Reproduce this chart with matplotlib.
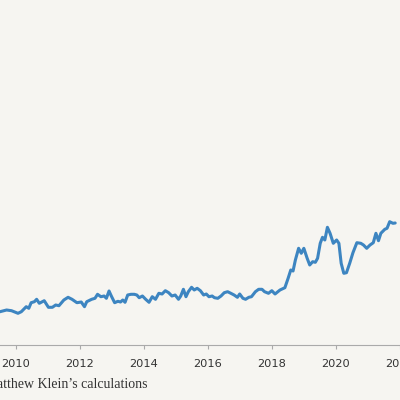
import matplotlib
matplotlib.use("Agg")
import matplotlib.pyplot as plt

# Decimal years and values (arbitrary units)
years = [2009.40, 2009.509, 2009.715, 2009.868, 2010.071, 2010.175, 2010.328, 2010.408, 2010.482,
         2010.583, 2010.653, 2010.736, 2010.890, 2011.021, 2011.144, 2011.248, 2011.350,
         2011.503, 2011.635, 2011.758, 2011.911, 2012.046, 2012.147, 2012.218, 2012.371,
         2012.475, 2012.555, 2012.660, 2012.761, 2012.831, 2012.914, 2012.985, 2013.089,
         2013.190, 2013.273, 2013.344, 2013.414, 2013.497, 2013.598, 2013.702, 2013.782,
         2013.856, 2013.957, 2014.058, 2014.163, 2014.264, 2014.365, 2014.469, 2014.571,
         2014.672, 2014.776, 2014.877, 2014.979, 2015.083, 2015.153, 2015.236, 2015.316,
         2015.390, 2015.491, 2015.574, 2015.666, 2015.767, 2015.868, 2015.951, 2016.034,
         2016.135, 2016.206, 2016.310, 2016.411, 2016.512, 2016.617, 2016.718, 2016.819,
         2016.923, 2016.994, 2017.095, 2017.178, 2017.279, 2017.362, 2017.485, 2017.586,
         2017.690, 2017.770, 2017.893, 2017.997, 2018.098, 2018.252, 2018.405, 2018.506,
         2018.589, 2018.660, 2018.733, 2018.834, 2018.917, 2018.997, 2019.101, 2019.181,
         2019.273, 2019.356, 2019.426, 2019.509, 2019.580, 2019.653, 2019.733, 2019.816,
         2019.917, 2020.021, 2020.092, 2020.163, 2020.245, 2020.328, 2020.429, 2020.531,
         2020.653, 2020.776, 2020.859, 2020.960, 2021.064, 2021.166, 2021.248, 2021.328,
         2021.402, 2021.525, 2021.595, 2021.678, 2021.779, 2021.850]
values = [3.30, 3.33, 3.50, 3.43, 3.17, 3.33, 3.83, 3.67, 4.23,
          4.33, 4.57, 4.17, 4.43, 3.77, 3.77, 4.00, 3.93,
          4.50, 4.77, 4.57, 4.23, 4.30, 3.83, 4.33, 4.57,
          4.67, 5.07, 4.83, 4.90, 4.67, 5.40, 4.90, 4.23,
          4.37, 4.30, 4.50, 4.27, 5.00, 5.07, 5.07, 5.00,
          4.73, 4.90, 4.57, 4.27, 4.83, 4.57, 5.17, 5.10,
          5.43, 5.23, 4.90, 5.00, 4.57, 4.90, 5.57, 4.83,
          5.33, 5.77, 5.50, 5.67, 5.43, 5.00, 5.10, 4.83,
          4.90, 4.73, 4.67, 4.90, 5.23, 5.33, 5.17, 5.00,
          4.77, 5.10, 4.67, 4.57, 4.77, 4.83, 5.33, 5.57,
          5.57, 5.33, 5.17, 5.43, 5.10, 5.50, 5.73, 6.67,
          7.50, 7.40, 8.50, 9.67, 9.17, 9.67, 8.67, 8.00,
          8.33, 8.27, 8.67, 10.17, 10.77, 10.50, 11.77, 11.17,
          10.17, 10.50, 10.17, 8.17, 7.17, 7.23, 8.17, 9.23,
          10.23, 10.17, 10.00, 9.67, 10.00, 10.23, 11.17, 10.43,
          11.17, 11.57, 11.67, 12.33, 12.17, 12.20]

tick_years = [2010, 2012, 2014, 2016, 2018, 2020, 2022]
tick_labels = ["2010", "2012", "2014", "2016", "2018", "2020", "2022"]
source = "Sources: Federal Reserve; Matthew Klein\u2019s calculations"

bg = "#f6f5f1"
fig = plt.figure(figsize=(4, 4), dpi=100, facecolor=bg)
ax = fig.add_axes([0, 0.1375, 1, 0.8625], facecolor=bg)
ax.plot(years, values, color="#3d85c1", lw=2.2, solid_joinstyle="round", solid_capstyle="round")

ax.set_xlim(2009.509, 2021.779)
ax.set_ylim(0, 34.5)
ax.set_xticks(tick_years)
ax.set_xticklabels(tick_labels, fontsize=8.2, color="#333333", family="DejaVu Sans")
ax.tick_params(axis="x", length=3, width=0.8, color="#aaaaaa", pad=7)
ax.set_yticks([])
for s in ["top", "left", "right"]:
    ax.spines[s].set_visible(False)
ax.spines["bottom"].set_color("#aaaaaa")
ax.spines["bottom"].set_linewidth(0.8)

fig.text(147 / 400, 1 - 388 / 400, source, ha="right", va="baseline",
         fontsize=10, family="Liberation Serif", color="#333333")

fig.savefig("out.png", dpi=100, facecolor=bg)
